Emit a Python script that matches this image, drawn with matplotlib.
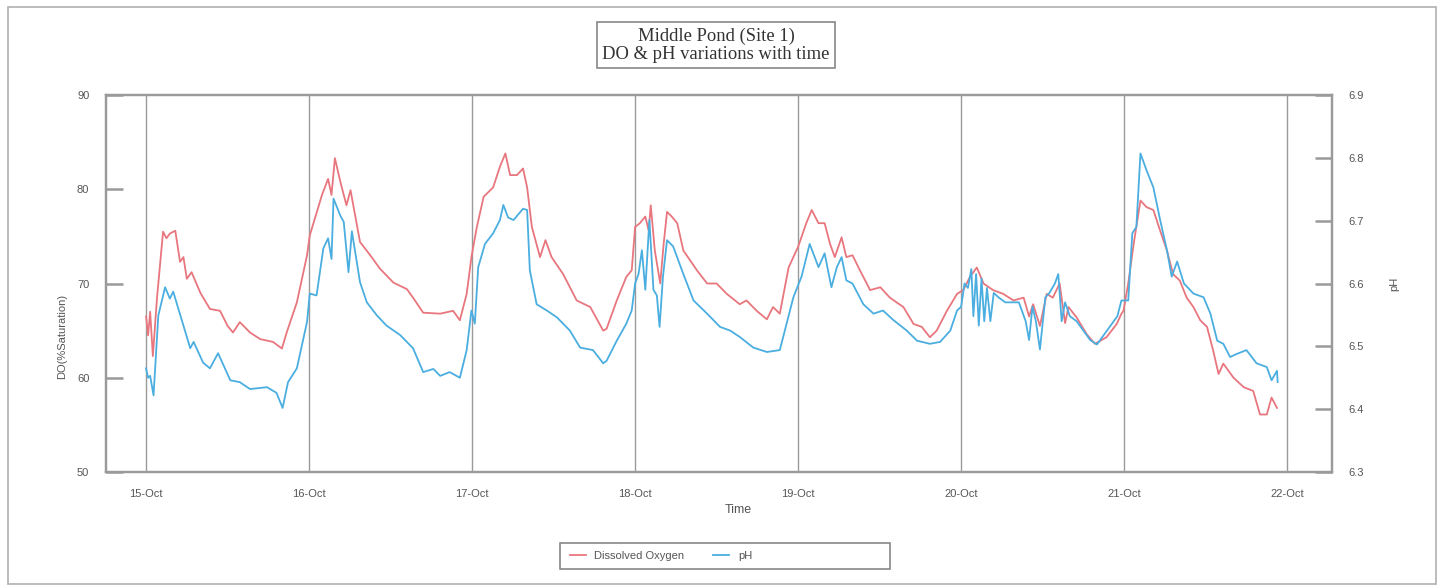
import numpy as np
import pandas as pd
import matplotlib
matplotlib.use("Agg")
import matplotlib.pyplot as plt
import matplotlib.dates as mdates
from matplotlib.patches import Rectangle

# --- data (hours after 15-Oct 00:00) ---
do_hours = [0.0, 0.3, 0.6, 1.0, 1.6, 2.5, 3.0, 3.5, 4.3, 5.0, 5.5, 6.0, 6.7, 8.0, 9.4, 10.9,
            12.0, 12.8, 13.8, 15.3, 16.8, 18.7, 20.0, 20.7, 22.2, 23.7,
            24.1, 25.9, 26.8, 27.3, 27.8, 28.6, 29.5, 30.1, 31.5, 33.0, 34.4, 36.4, 38.4, 39.3,
            40.8, 43.3, 45.2, 46.2, 47.2, 47.9,
            48.7, 49.7, 51.1, 52.1, 52.9, 53.6, 54.6, 55.5, 56.1, 56.8, 58.0, 58.8, 59.7, 61.4,
            63.4, 65.4, 67.3, 67.8, 69.3, 70.7, 71.5,
            72.0, 72.7, 73.5, 74.0, 74.3, 74.9, 75.7, 76.2, 76.7, 77.4, 78.2, 79.1, 81.1, 82.6,
            84.0, 85.5, 87.4, 88.4, 89.9, 91.4, 92.3, 93.3, 94.6, 95.3,
            96.0, 97.2, 98.0, 99.0, 99.9, 100.7, 101.4, 102.4, 103.1, 104.0, 105.1, 106.6, 108.1,
            109.5, 111.5, 113.0, 114.2, 115.4, 116.4, 117.9, 119.4,
            120.3, 121.3, 122.3, 123.3, 124.7, 126.2, 127.7, 129.2, 130.0, 130.6, 131.6, 132.6,
            133.5, 134.5, 135.3, 135.8, 137.0, 138.5, 139.7, 141.4, 142.9, 143.6,
            143.9, 144.6, 145.4, 146.4, 147.3, 148.3, 149.3, 150.3, 151.2, 152.2, 153.2, 154.2,
            155.2, 156.2, 157.1, 157.9, 158.6, 160.1, 161.6, 163.0, 164.0, 165.0, 165.7, 166.5]
do_values = [66.5, 64.5, 67.0, 62.3, 68.4, 75.5, 74.8, 75.3, 75.6, 72.3, 72.8, 70.5, 71.2, 69.0, 67.3, 67.1,
             65.5, 64.8, 65.9, 64.8, 64.1, 63.8, 63.1, 64.8, 68.0, 73.0,
             75.1, 79.4, 81.1, 79.4, 83.3, 80.8, 78.3, 79.9, 74.4, 73.0, 71.6, 70.1, 69.4, 68.5,
             66.9, 66.8, 67.1, 66.1, 68.9, 72.8,
             76.0, 79.2, 80.2, 82.4, 83.8, 81.5, 81.5, 82.2, 80.2, 76.0, 72.8, 74.6, 72.8, 71.0,
             68.2, 67.5, 65.0, 65.2, 68.2, 70.7, 71.4,
             76.0, 76.4, 77.1, 75.6, 78.3, 73.5, 70.0, 74.2, 77.6, 77.1, 76.4, 73.5, 71.4, 70.0,
             70.0, 68.9, 67.8, 68.2, 67.1, 66.2, 67.5, 66.8, 71.7, 72.8,
             73.9, 76.4, 77.8, 76.4, 76.4, 74.2, 72.8, 74.9, 72.8, 73.0, 71.4, 69.3, 69.6,
             68.5, 67.5, 65.7, 65.4, 64.3, 65.0, 67.1, 68.9,
             69.3, 70.7, 71.7, 70.0, 69.3, 68.9, 68.2, 68.5, 66.5, 67.8, 65.5, 68.9,
             68.5, 70.0, 65.8, 67.5, 66.4, 64.6, 63.6, 64.3, 65.7, 66.8,
             67.1, 70.0, 74.2, 78.8, 78.1, 77.8, 75.6, 73.5, 71.0, 70.3, 68.5, 67.5,
             66.1, 65.4, 62.9, 60.4, 61.5, 60.0, 59.0, 58.6, 56.1, 56.1, 57.9, 56.8]

ph_hours = [0.0, 0.3, 0.6, 1.1, 1.8, 2.8, 3.5, 4.0, 5.5, 6.5, 7.0, 8.4, 9.4, 10.6, 12.4, 13.8,
            15.3, 17.8, 19.2, 20.1, 20.9, 22.2, 23.7,
            24.1, 25.1, 26.1, 26.8, 27.3, 27.6, 28.6, 29.1, 29.8, 30.3, 31.5, 32.5, 34.0, 35.4,
            37.4, 39.3, 40.8, 42.3, 43.3, 44.7, 46.2, 47.2, 47.9,
            48.4, 48.9, 49.9, 51.1, 52.1, 52.6, 53.3, 54.1, 55.5, 56.1, 56.5, 57.5, 59.0, 60.5,
            62.4, 63.9, 65.8, 67.3, 67.8, 69.3, 70.7, 71.5,
            72.0, 72.5, 73.0, 73.5, 74.1, 74.7, 75.2, 75.6, 76.1, 76.7, 77.6, 79.1, 80.6, 82.6,
            84.5, 86.0, 87.4, 89.4, 91.4, 93.3, 94.3, 95.3,
            96.5, 97.7, 99.0, 99.9, 100.9, 101.7, 102.4, 103.1, 104.0, 105.6, 107.1, 108.5,
            110.0, 112.0, 113.5, 115.4, 116.9, 118.4, 119.4,
            120.0, 120.5, 121.0, 121.5, 121.8, 122.2, 122.6, 123.0, 123.4, 123.8, 124.3, 124.8,
            125.5, 126.5, 127.5, 128.5, 129.5, 130.0, 130.5, 131.0, 131.6, 132.4, 133.0, 133.8,
            134.3, 134.8, 135.3, 136.0, 137.0, 138.0, 139.0, 140.0, 141.0, 142.0, 143.0, 143.6,
            144.6, 145.2, 145.8, 146.4, 147.3, 148.3, 149.3, 150.3, 151.0, 151.8, 152.8, 154.2,
            155.7, 156.7, 157.7, 158.6, 159.6, 160.6, 162.0, 163.5, 165.0, 165.7, 166.5, 166.6]
ph_values = [6.465, 6.450, 6.453, 6.422, 6.549, 6.594, 6.576, 6.587, 6.533, 6.497, 6.507, 6.474,
             6.465, 6.489, 6.446, 6.443, 6.432, 6.435, 6.426, 6.402, 6.443, 6.465, 6.539,
             6.584, 6.581, 6.656, 6.672, 6.639, 6.735, 6.708, 6.698, 6.618, 6.683, 6.602, 6.570,
             6.549, 6.533, 6.518, 6.497, 6.459, 6.464, 6.453, 6.459, 6.450, 6.494, 6.557,
             6.536, 6.626, 6.663, 6.680, 6.701, 6.725, 6.705, 6.701, 6.719, 6.717, 6.621, 6.567,
             6.557, 6.546, 6.525, 6.498, 6.494, 6.473, 6.477, 6.509, 6.536, 6.557,
             6.600, 6.615, 6.653, 6.590, 6.701, 6.590, 6.581, 6.531, 6.611, 6.669, 6.659, 6.615,
             6.573, 6.552, 6.531, 6.525, 6.515, 6.498, 6.491, 6.494, 6.536, 6.578,
             6.611, 6.663, 6.626, 6.648, 6.594, 6.626, 6.642, 6.605, 6.600, 6.567, 6.552, 6.557,
             6.542, 6.525, 6.509, 6.504, 6.507, 6.525, 6.557,
             6.563, 6.600, 6.593, 6.623, 6.548, 6.615, 6.533, 6.608, 6.540, 6.593, 6.540, 6.585,
             6.578, 6.570, 6.570, 6.570, 6.540, 6.510, 6.563, 6.540, 6.495, 6.578, 6.585, 6.600,
             6.615, 6.540, 6.570, 6.548, 6.540, 6.525, 6.510, 6.503, 6.518, 6.533, 6.548, 6.573,
             6.573, 6.680, 6.690, 6.807, 6.780, 6.753, 6.701, 6.653, 6.611, 6.635, 6.600, 6.584,
             6.578, 6.552, 6.509, 6.504, 6.483, 6.488, 6.494, 6.473, 6.467, 6.446, 6.461, 6.443]

day_labels = ['15-Oct', '16-Oct', '17-Oct', '18-Oct', '19-Oct', '20-Oct', '21-Oct', '22-Oct']

start = pd.Timestamp('2003-10-15')
do_time = start + pd.to_timedelta(do_hours, unit='h')
ph_time = start + pd.to_timedelta(ph_hours, unit='h')
days = pd.date_range(start, periods=len(day_labels), freq='D')

red = '#e8767e'
blue = '#4aaee0'
grey = '#9a9a9a'
txt = '#555555'

plt.rcParams['font.family'] = ['Liberation Sans', 'DejaVu Sans']

fig = plt.figure(figsize=(14.42, 5.85), dpi=100)
ax = fig.add_axes([106 / 1442, 113 / 585, 1226 / 1442, 377 / 585])
ax2 = ax.twinx()

ax.plot(do_time, do_values, color=red, lw=1.3)
ax2.plot(ph_time, ph_values, color=blue, lw=1.3)

for d in days:
    ax.axvline(d, color=grey, lw=1.0, zorder=0)

ax.set_xlim(start - pd.Timedelta(hours=5.9), start + pd.Timedelta(hours=174.6))
ax.set_ylim(50, 90)
ax2.set_ylim(6.3, 6.9)
ax.set_yticks([50, 60, 70, 80, 90])
ax2.set_yticks([6.3, 6.4, 6.5, 6.6, 6.7, 6.8, 6.9])
ax2.set_yticklabels(['6.3', '6.4', '6.5', '6.6', '6.7', '6.8', '6.9'])
ax.set_xticks(days)
ax.set_xticklabels(day_labels)

ax.tick_params(axis='y', direction='in', length=12, width=1.8, color=grey,
               labelsize=8, labelcolor=txt, pad=12)
ax2.tick_params(axis='y', direction='in', length=12, width=1.8, color=grey,
                labelsize=8, labelcolor=txt, pad=12)
ax.tick_params(axis='x', length=0, labelsize=8, labelcolor=txt, pad=12)

for a in (ax, ax2):
    for s in a.spines.values():
        s.set_color(grey)
        s.set_linewidth(1.6)

ax.set_xlabel('Time', fontsize=9, color=txt)
ax.xaxis.set_label_coords((738 - 106) / 1226, -0.085)
ax.set_ylabel('DO(%Saturation)', fontsize=8, color=txt)
ax.yaxis.set_label_coords(-0.032, 0.36)
ax2.set_ylabel('pH', fontsize=8, color=txt, rotation=90)
ax2.yaxis.set_label_coords(1.047, 0.5)

# title box
fig.text(716 / 1442, 1 - 45 / 585, 'Middle Pond (Site 1)\nDO & pH variations with time',
         ha='center', va='center', fontsize=13.4, family='Liberation Serif', color='#333333',
         linespacing=1.1,
         bbox=dict(boxstyle='square,pad=0.3', fc='white', ec='#888888', lw=1.2))

# outer border
fig.patches.append(Rectangle((8 / 1442, 0.002), 1428 / 1442, 577 / 585, transform=fig.transFigure,
                             fill=False, ec='#b0b0b0', lw=1.2))

# legend
fig.patches.append(Rectangle((560 / 1442, 1 - 569 / 585), 330 / 1442, 26 / 585,
                             transform=fig.transFigure, fill=False, ec='#888888', lw=1.2))
h1, = ax.plot([], [], color=red, lw=1.3)
h2, = ax.plot([], [], color=blue, lw=1.3)
fig.legend([h1, h2], ['Dissolved Oxygen', 'pH'], ncol=2, loc='center left',
           bbox_to_anchor=(560 / 1442, 1 - 556 / 585), frameon=False, fontsize=8,
           handlelength=1.4, columnspacing=2.6, labelcolor=txt)

fig.savefig('out.png', dpi=100)
